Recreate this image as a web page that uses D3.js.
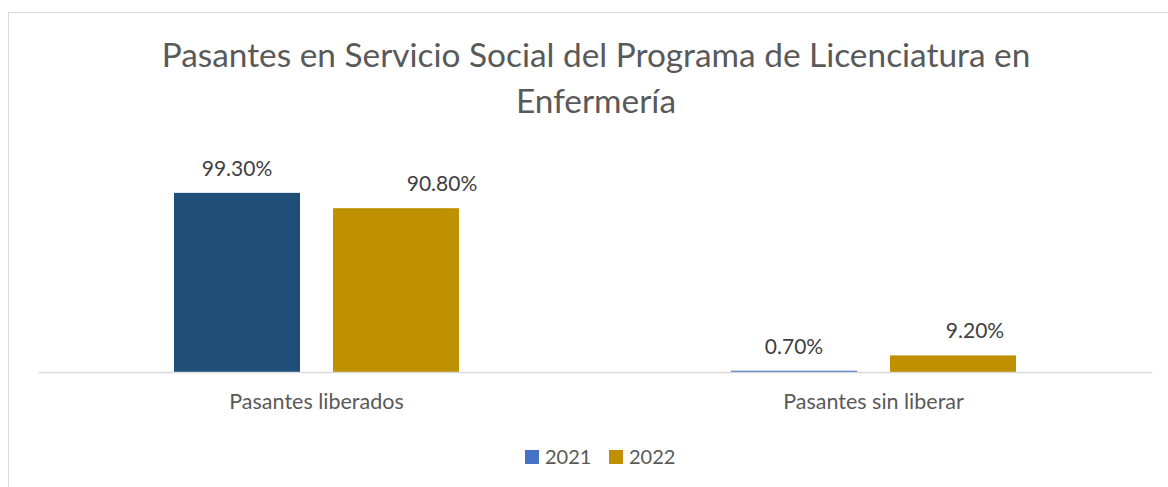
<!DOCTYPE html>
<html>
<head>
<meta charset="utf-8">
<script src="https://cdn.jsdelivr.net/npm/d3@7"></script>
<style>
  html, body { margin: 0; padding: 0; background: #ffffff; }
  svg { display: block; font-family: Lato, "Open Sans", sans-serif; }
</style>
</head>
<body>
<svg id="chart" width="1168" height="487"></svg>
<script>
// Chart data
const titleLines = ["Pasantes en Servicio Social del Programa de Licenciatura en", "Enfermería"];
const categories = ["Pasantes liberados", "Pasantes sin liberar"];
const seriesNames = ["2021", "2022"];
const values2021 = [99.3, 0.7];
const values2022 = [90.8, 9.2];
const valueLabels2021 = ["99.30%", "0.70%"];
const valueLabels2022 = ["90.80%", "9.20%"];

// Styling
const seriesColors = { "2021": "#4472C4", "2022": "#BF9000" };
// the first 2021 bar carries its own darker fill
const pointFill = (series, i) => (series === "2021" && i === 0) ? "#1F4E79" : seriesColors[series];
// hand-placed data labels (horizontal shift in px)
const labelShift = { "2021": [0, 0], "2022": [46, 22] };

const svg = d3.select("#chart");

// chart area border
svg.append("rect")
  .attr("x", 8.5).attr("y", 12.5)
  .attr("width", 1200).attr("height", 520)
  .attr("fill", "none").attr("stroke", "#d9d9d9").attr("stroke-width", 1);

// title
svg.append("text")
  .attr("text-anchor", "middle")
  .attr("fill", "#595959")
  .attr("font-size", 33.4)
  .selectAll("tspan").data(titleLines).join("tspan")
  .attr("x", 596)
  .attr("y", (d, i) => 67 + i * 46)
  .text(d => d);

const plot = { left: 38, right: 1152, baseline: 372 };

const x0 = d3.scaleBand().domain(categories).range([plot.left, plot.right]).paddingInner(0).paddingOuter(0);
const x1 = d3.scaleBand().domain(seriesNames).range([0, x0.bandwidth()]).paddingInner(0.2075).paddingOuter(0.855);
const y = d3.scaleLinear().domain([0, 100]).range([plot.baseline, 191.6]);

const rows = [];
categories.forEach((c, i) => {
  rows.push({ cat: c, idx: i, series: "2021", value: values2021[i], label: valueLabels2021[i] });
  rows.push({ cat: c, idx: i, series: "2022", value: values2022[i], label: valueLabels2022[i] });
});

// bars
svg.append("g").selectAll("rect").data(rows).join("rect")
  .attr("x", d => x0(d.cat) + x1(d.series))
  .attr("y", d => y(d.value))
  .attr("width", x1.bandwidth())
  .attr("height", d => y(0) - y(d.value))
  .attr("fill", d => pointFill(d.series, d.idx));

// category axis
const xAxis = svg.append("g")
  .attr("transform", `translate(0,${plot.baseline})`)
  .call(d3.axisBottom(x0).tickSize(0).tickPadding(0));
xAxis.select(".domain").attr("stroke", "#d9d9d9").attr("stroke-width", 1.3);
xAxis.selectAll(".tick text")
  .attr("font-family", "Lato, 'Open Sans', sans-serif")
  .attr("font-size", 21.5)
  .attr("fill", "#595959")
  .attr("dy", null)
  .attr("y", 37);

// data labels
svg.append("g").selectAll("text").data(rows).join("text")
  .attr("x", d => x0(d.cat) + x1(d.series) + x1.bandwidth() / 2 + labelShift[d.series][d.idx])
  .attr("y", d => y(d.value) - 17)
  .attr("text-anchor", "middle")
  .attr("font-size", 21)
  .attr("fill", "#404040")
  .text(d => d.label);

// legend
const legend = svg.append("g");
const legendX = [525, 609];
seriesNames.forEach((s, i) => {
  legend.append("rect")
    .attr("x", legendX[i]).attr("y", 450)
    .attr("width", 14).attr("height", 14)
    .attr("fill", seriesColors[s]);
  legend.append("text")
    .attr("x", legendX[i] + 20).attr("y", 464)
    .attr("font-size", 20)
    .attr("fill", "#595959")
    .text(s);
});
</script>
</body>
</html>
